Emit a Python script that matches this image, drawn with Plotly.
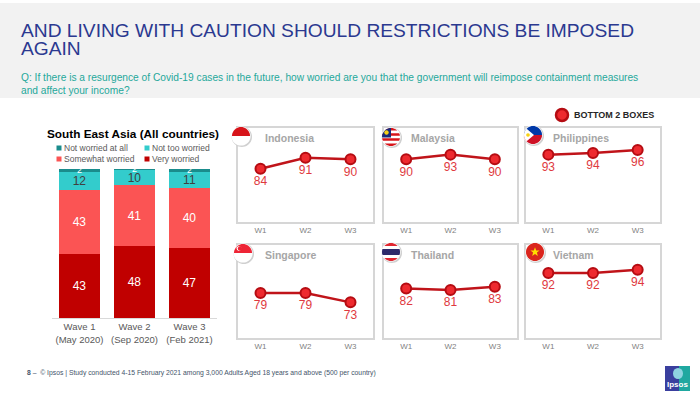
import math
import plotly.graph_objects as go

# Data
wave_labels = ["Wave 1<br>(May 2020)", "Wave 2<br>(Sep 2020)", "Wave 3<br>(Feb 2021)"]
very_worried = [43, 48, 47]
somewhat_worried = [43, 41, 40]
not_too_worried = [12, 10, 11]
not_worried_at_all = [2, 2, 2]

countries = ["Indonesia", "Malaysia", "Philippines", "Singapore", "Thailand", "Vietnam"]
wave_ticks = ["W1", "W2", "W3"]
bottom2 = [
    [84, 91, 90],
    [90, 93, 90],
    [93, 94, 96],
    [79, 79, 73],
    [82, 81, 83],
    [92, 92, 94],
]

W, H = 700, 403
FONT = "Liberation Sans"


def px(x):
    return x / W


def py(y):
    return 1 - y / H


fig = go.Figure()
shapes = []
annotations = []

# ---- stacked bar (South East Asia) ----
seg_colors = ["#c00000", "#fb5454", "#33cccc", "#1a8c8c"]
seg_names = ["Very worried", "Somewhat worried", "Not too worried", "Not worried at all"]
seg_vals = [very_worried, somewhat_worried, not_too_worried, not_worried_at_all]
seg_text_col = ["white", "white", "#404040", "white"]
seg_text_size = [12, 12, 12, 9]
for name, vals, col, tcol, tsz in zip(seg_names, seg_vals, seg_colors, seg_text_col, seg_text_size):
    fig.add_trace(go.Bar(
        x=wave_labels, y=vals, name=name, marker_color=col, marker_line_width=0,
        text=vals, textposition="inside", insidetextanchor="middle", textangle=0,
        constraintext="none", textfont=dict(color=tcol, size=tsz, family=FONT),
        xaxis="x", yaxis="y", showlegend=False, cliponaxis=True,
    ))

# ---- small multiples ----
box_x = [(238, 373), (384, 517), (526, 660)]
box_y = [(128, 222), (245, 338)]
axes = {}
for i, (name, vals) in enumerate(zip(countries, bottom2)):
    n = i + 2
    bx = box_x[i % 3]
    by = box_y[i // 3]
    fig.add_trace(go.Scatter(
        x=wave_ticks, y=vals, mode="lines+markers+text", text=vals,
        textposition="bottom center",
        textfont=dict(color="#e0393e", size=12, family=FONT),
        line=dict(color="#c0141a", width=2.5),
        marker=dict(size=10, color="#ee2a2f", line=dict(color="#b50c12", width=2)),
        xaxis=f"x{n}", yaxis=f"y{n}", showlegend=False, cliponaxis=False,
    ))
    axes[f"xaxis{n}"] = dict(
        domain=[px(bx[0]), px(bx[1])], anchor=f"y{n}", range=[-0.5, 2.5],
        showgrid=False, zeroline=False, showline=True, mirror=True,
        linecolor="#d6d6d6", linewidth=1.5, ticks="",
        tickfont=dict(size=8, color="#7f7f7f", family=FONT), fixedrange=True,
    )
    axes[f"yaxis{n}"] = dict(
        domain=[py(by[1]), py(by[0])], anchor=f"x{n}", range=[50, 110],
        showgrid=False, zeroline=False, showline=True, mirror=True,
        linecolor="#d6d6d6", linewidth=1.5, showticklabels=False, ticks="",
        fixedrange=True,
    )
    annotations.append(dict(
        x=px(bx[0] + 25), y=py(by[0] + 10), xref="paper", yref="paper",
        text=f"<b>{name}</b>", showarrow=False, xanchor="left", yanchor="middle",
        font=dict(size=10.5, color="#a6a6a6", family=FONT),
    ))


# ---- flags (approximate icons) ----
def clip(subject, clipper):
    area = sum(clipper[k][0] * clipper[(k + 1) % len(clipper)][1]
               - clipper[(k + 1) % len(clipper)][0] * clipper[k][1]
               for k in range(len(clipper)))
    sgn = 1 if area > 0 else -1
    out = subject
    for k in range(len(clipper)):
        a = clipper[k]
        b = clipper[(k + 1) % len(clipper)]
        inp, out = out, []
        if not inp:
            break

        def inside(p):
            return sgn * ((b[0] - a[0]) * (p[1] - a[1]) - (b[1] - a[1]) * (p[0] - a[0])) >= 0

        def inter(p, q):
            x1, y1 = a
            x2, y2 = b
            x3, y3 = p
            x4, y4 = q
            den = (x1 - x2) * (y3 - y4) - (y1 - y2) * (x3 - x4)
            t = ((x1 - x3) * (y3 - y4) - (y1 - y3) * (x3 - x4)) / den
            return (x1 + t * (x2 - x1), y1 + t * (y2 - y1))

        s = inp[-1]
        for e in inp:
            if inside(e):
                if not inside(s):
                    out.append(inter(s, e))
                out.append(e)
            elif inside(s):
                out.append(inter(s, e))
            s = e
    return out


def circle_poly(cx, cy, r, n=40):
    return [(cx + r * math.cos(2 * math.pi * k / n), cy + r * math.sin(2 * math.pi * k / n)) for k in range(n)]


def poly_shape(pts, color, line=None):
    d = "M " + " L ".join(f"{px(x):.5f},{py(y):.5f}" for x, y in pts) + " Z"
    return dict(type="path", path=d, xref="paper", yref="paper", fillcolor=color,
                line=line or dict(width=0), layer="above")


def rect(x0, y0, x1, y1):
    return [(x0, y0), (x1, y0), (x1, y1), (x0, y1)]


def flag(cx, cy, pieces, r=9):
    shapes.append(poly_shape(circle_poly(cx + 0.8, cy + 0.8, r + 1.2), "#d0d0d0"))
    shapes.append(poly_shape(circle_poly(cx, cy, r + 0.6), "white"))
    disk = circle_poly(cx, cy, r)
    for poly, col in pieces:
        part = clip(disk, poly)
        if part:
            shapes.append(poly_shape(part, col))


def star(cx, cy, ro, ri):
    pts = []
    for k in range(10):
        ang = -math.pi / 2 + k * math.pi / 5
        rr = ro if k % 2 == 0 else ri
        pts.append((cx + rr * math.cos(ang), cy + rr * math.sin(ang)))
    return pts


R = 9
# Indonesia
cx, cy = 241, 136
flag(cx, cy, [(rect(cx - 20, cy - 20, cx + 20, cy), "#d7141a")])
# Malaysia
cx, cy = 391, 137
mal = []
for k in range(7):
    if k % 2 == 0:
        mal.append((rect(cx - 20, cy - R + k * 2 * R / 7, cx + 20, cy - R + (k + 1) * 2 * R / 7), "#d7141a"))
mal.append((rect(cx - 20, cy - 20, cx, cy + 0.5), "#1a2a7a"))
mal.append((circle_poly(cx - 4.5, cy - 4.5, 2.2, 12), "#f7d117"))
flag(cx, cy, mal)
# Philippines
cx, cy = 533, 135
flag(cx, cy, [
    (rect(cx - 20, cy - 20, cx + 20, cy), "#0038a8"),
    (rect(cx - 20, cy, cx + 20, cy + 20), "#ce1126"),
    ([(cx - 14, cy - 13), (cx + 1, cy), (cx - 14, cy + 13)], "white"),
    (circle_poly(cx - 5, cy, 1.8, 12), "#f7d117"),
])
# Singapore
cx, cy = 243, 253
flag(cx, cy, [
    (rect(cx - 20, cy - 20, cx + 20, cy), "#ee2536"),
    (circle_poly(cx - 4, cy - 4.5, 2.4, 12), "white"),
    (circle_poly(cx - 3, cy - 4.5, 2.2, 12), "#ee2536"),
])
# Thailand
cx, cy = 391, 252
u = 2 * R / 6
flag(cx, cy, [
    (rect(cx - 20, cy - 20, cx + 20, cy - R + u), "#e0262f"),
    (rect(cx - 20, cy - R + 2 * u, cx + 20, cy - R + 4 * u), "#2d2a6a"),
    (rect(cx - 20, cy - R + 5 * u, cx + 20, cy + 20), "#e0262f"),
])
# Vietnam
cx, cy = 535, 252
flag(cx, cy, [
    (rect(cx - 20, cy - 20, cx + 20, cy + 20), "#da251d"),
])
shapes.append(poly_shape(star(cx, cy, 4.8, 2.0), "#ffdd00"))

# ---- header band ----
shapes.insert(0, dict(type="rect", xref="paper", yref="paper", x0=0, x1=1,
                      y0=py(98), y1=py(3), fillcolor="#f2f2f2", line=dict(width=0), layer="below"))

annotations += [
    dict(x=px(19), y=py(30), text="AND LIVING WITH CAUTION SHOULD RESTRICTIONS BE IMPOSED",
         font=dict(size=19.2, color="#2b3990", family=FONT)),
    dict(x=px(19), y=py(48), text="AGAIN", font=dict(size=19.2, color="#2b3990", family=FONT)),
    dict(x=px(19), y=py(77),
         text="Q: If there is a resurgence of Covid-19 cases in the future, how worried are you that the government will reimpose containment measures",
         font=dict(size=10.2, color="#25a89b", family=FONT)),
    dict(x=px(19), y=py(90), text="and affect your income?",
         font=dict(size=10.2, color="#25a89b", family=FONT)),
    # bar chart title
    dict(x=px(133), y=py(134), text="<b>South East Asia (All countries)</b>", xanchor="center",
         font=dict(size=11.8, color="black", family=FONT)),
    # legend "BOTTOM 2 BOXES"
    dict(x=px(572), y=py(115), text="<b>BOTTOM 2 BOXES</b>",
         font=dict(size=9, color="#262626", family=FONT)),
    # footer
    dict(x=px(25), y=py(373),
         text="<b>8</b> –  © Ipsos | Study conducted 4-15 February 2021 among 3,000 Adults Aged 18 years and above (500 per country)",
         font=dict(size=6.8, color="#44546a", family=FONT)),
    dict(x=px(677.5), y=py(384), text="<b>Ipsos</b>", xanchor="center",
         font=dict(size=8, color="white", family=FONT)),
]
for a in annotations:
    a.setdefault("xref", "paper")
    a.setdefault("yref", "paper")
    a.setdefault("showarrow", False)
    a.setdefault("xanchor", "left")
    a.setdefault("yanchor", "middle")

# manual legend for the stacked bar
legend_items = [
    (59, 148, "#1a8c8c", "Not worried at all"),
    (147, 148, "#33cccc", "Not too worried"),
    (59, 159, "#fb5454", "Somewhat worried"),
    (147, 159, "#c00000", "Very worried"),
]
for lx, ly, col, lab in legend_items:
    shapes.append(dict(type="rect", xref="paper", yref="paper", x0=px(lx - 2.5), x1=px(lx + 2.5),
                       y0=py(ly + 2.5), y1=py(ly - 2.5), fillcolor=col, line=dict(width=0)))
    annotations.append(dict(x=px(lx + 3), y=py(ly), xref="paper", yref="paper", text=lab,
                            showarrow=False, xanchor="left", yanchor="middle",
                            font=dict(size=8.5, color="#595959", family=FONT)))

# legend marker for BOTTOM 2 BOXES
shapes.append(dict(type="circle", xref="paper", yref="paper", x0=px(556), x1=px(568),
                   y0=py(121), y1=py(109), fillcolor="#ee2a2f", line=dict(color="#b50c12", width=2.5)))

# Ipsos logo
shapes.append(dict(type="rect", xref="paper", yref="paper", x0=px(665), x1=px(690),
                   y0=py(391), y1=py(366), fillcolor="#3a3f9e", line=dict(width=0)))
shapes.append(dict(type="rect", xref="paper", yref="paper", x0=px(679), x1=px(690),
                   y0=py(391), y1=py(366), fillcolor="#1fa8a0", line=dict(width=0)))
shapes.append(dict(type="circle", xref="paper", yref="paper", x0=px(673), x1=px(683),
                   y0=py(379), y1=py(368), fillcolor="#8fd3e0", line=dict(width=0)))

fig.update_layout(
    width=W, height=H, margin=dict(l=0, r=0, t=0, b=0),
    paper_bgcolor="white", plot_bgcolor="rgba(0,0,0,0)",
    barmode="stack", bargap=0.27,
    font=dict(family=FONT),
    xaxis=dict(domain=[px(52), px(217)], anchor="y", showline=True, linecolor="#d9d9d9",
               linewidth=1, ticks="", showgrid=False, fixedrange=True,
               tickfont=dict(size=9.5, color="#595959", family=FONT)),
    yaxis=dict(domain=[py(318), py(169)], anchor="x", range=[0, 100], visible=False,
               fixedrange=True),
    shapes=shapes, annotations=annotations,
    **axes,
)

# drop the default 8px body margin so the figure fills the window exactly
fig.write_html("out.html", config={"displayModeBar": False},
               post_script="document.body.style.margin='0';document.body.style.overflow='hidden';")
